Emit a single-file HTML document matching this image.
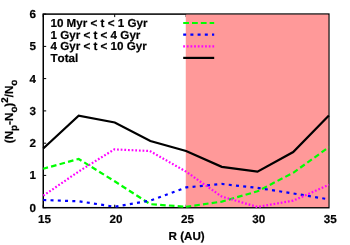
<!DOCTYPE html>
<html><head><meta charset="utf-8"><style>
html,body{margin:0;padding:0;background:#fff;}
svg{display:block;will-change:transform;opacity:0.999}
text{font-family:"Liberation Sans",sans-serif;font-weight:bold;font-size:11.65px;fill:#000;stroke:#000;stroke-width:0.2px;font-kerning:none;text-rendering:geometricPrecision}
</style></head><body>
<svg width="350" height="245" viewBox="0 0 350 245">
<rect x="0" y="0" width="350" height="245" fill="#fff"/>
<g stroke="#000" stroke-width="1.0"><line x1="43.2" y1="207.7" x2="46.2" y2="207.7"/><line x1="43.2" y1="175.4" x2="46.2" y2="175.4"/><line x1="43.2" y1="143.2" x2="46.2" y2="143.2"/><line x1="43.2" y1="110.9" x2="46.2" y2="110.9"/><line x1="43.2" y1="78.6" x2="46.2" y2="78.6"/><line x1="43.2" y1="46.4" x2="46.2" y2="46.4"/><line x1="43.2" y1="14.1" x2="46.2" y2="14.1"/><line x1="43.2" y1="207.7" x2="43.2" y2="204.7"/><line x1="43.2" y1="14.1" x2="43.2" y2="17.1"/><line x1="114.7" y1="207.7" x2="114.7" y2="204.7"/><line x1="114.7" y1="14.1" x2="114.7" y2="17.1"/><line x1="186.1" y1="207.7" x2="186.1" y2="204.7"/><line x1="186.1" y1="14.1" x2="186.1" y2="17.1"/></g>
<rect x="43.25" y="14.1" width="285.6" height="193.6" fill="none" stroke="#000" stroke-width="1.5"/>
<rect x="185.77" y="14.60" width="142.62" height="192.50" fill="#ff9999"/>
<g fill="none" stroke-linejoin="miter">
<polyline points="43.25,168.74 78.66,158.95 114.66,181.30 150.37,204.18 186.07,206.76" stroke="#00ff00" stroke-width="2.2" stroke-dasharray="5.6 3.2" stroke-dashoffset="0.7"/>
<polyline points="186.07,206.76 221.78,201.60 257.49,191.29 293.19,172.77 328.90,147.16" stroke="#00ff00" stroke-width="2.2" stroke-dasharray="5.57 3.18" stroke-dashoffset="0.4"/>
<polyline points="43.25,199.99 78.96,201.28 114.66,206.76 150.37,200.63 186.07,187.43 221.78,183.98 257.49,187.91 293.19,193.42 328.90,199.35" stroke="#0000ff" stroke-width="2.2" stroke-dasharray="3 4.27"/>
<polyline points="43.25,195.71 78.96,171.32 114.26,149.39 149.87,151.00 186.07,171.64 221.78,196.61 257.49,206.92 293.19,200.63 328.90,184.85" stroke="#ff00ff" stroke-width="2.2" stroke-dasharray="1.75 1.9"/>
<polyline points="43.25,148.57 78.66,115.58 114.76,122.51 150.37,141.03 186.07,150.96 221.78,166.81 257.49,171.64 293.19,152.08 328.90,115.58" stroke="#000" stroke-width="2.2"/>
<line x1="183.2" y1="23.0" x2="214.2" y2="23.0" stroke="#00ff00" stroke-width="2.2" stroke-dasharray="5.8 3.0"/>
<line x1="183.2" y1="34.7" x2="214.2" y2="34.7" stroke="#0000ff" stroke-width="2.2" stroke-dasharray="3 4.2"/>
<line x1="183.2" y1="46.3" x2="214.2" y2="46.3" stroke="#ff00ff" stroke-width="2.2" stroke-dasharray="1.75 1.9"/>
<line x1="183.2" y1="57.9" x2="214.2" y2="57.9" stroke="#000" stroke-width="2.2"/>
</g>
<text x="36.1" y="211.5" text-anchor="end">0</text><text x="36.1" y="179.3" text-anchor="end">1</text><text x="36.1" y="147.0" text-anchor="end">2</text><text x="36.1" y="114.7" text-anchor="end">3</text><text x="36.1" y="82.5" text-anchor="end">4</text><text x="36.1" y="50.2" text-anchor="end">5</text><text x="36.1" y="17.9" text-anchor="end">6</text>
<text x="44.5" y="222.75" text-anchor="middle">15</text><text x="116.0" y="222.75" text-anchor="middle">20</text><text x="187.4" y="222.75" text-anchor="middle">25</text><text x="258.8" y="222.75" text-anchor="middle">30</text><text x="330.2" y="222.75" text-anchor="middle">35</text>
<text x="186.6" y="239.6" text-anchor="middle">R (AU)</text>
<text x="50.45" y="27.1">10 Myr &lt; t &lt; 1 Gyr</text>
<text x="50.45" y="38.6">1 Gyr &lt; t &lt; 4 Gyr</text>
<text x="50.45" y="50.1">4 Gyr &lt; t &lt; 10 Gyr</text>
<text x="50.45" y="61.7">Total</text>
<g transform="translate(13.4,143.2) rotate(-90)">
<text x="0" y="0">(N<tspan dy="3.4" font-size="9.8px">p</tspan><tspan dy="-3.4">-N</tspan><tspan dy="3.4" font-size="9.8px">o</tspan><tspan dy="-3.4">)</tspan><tspan dy="-5.6" font-size="9.8px">2</tspan><tspan dy="5.6">/N</tspan><tspan dy="3.4" font-size="9.8px">o</tspan></text>
</g>
</svg>
</body></html>
